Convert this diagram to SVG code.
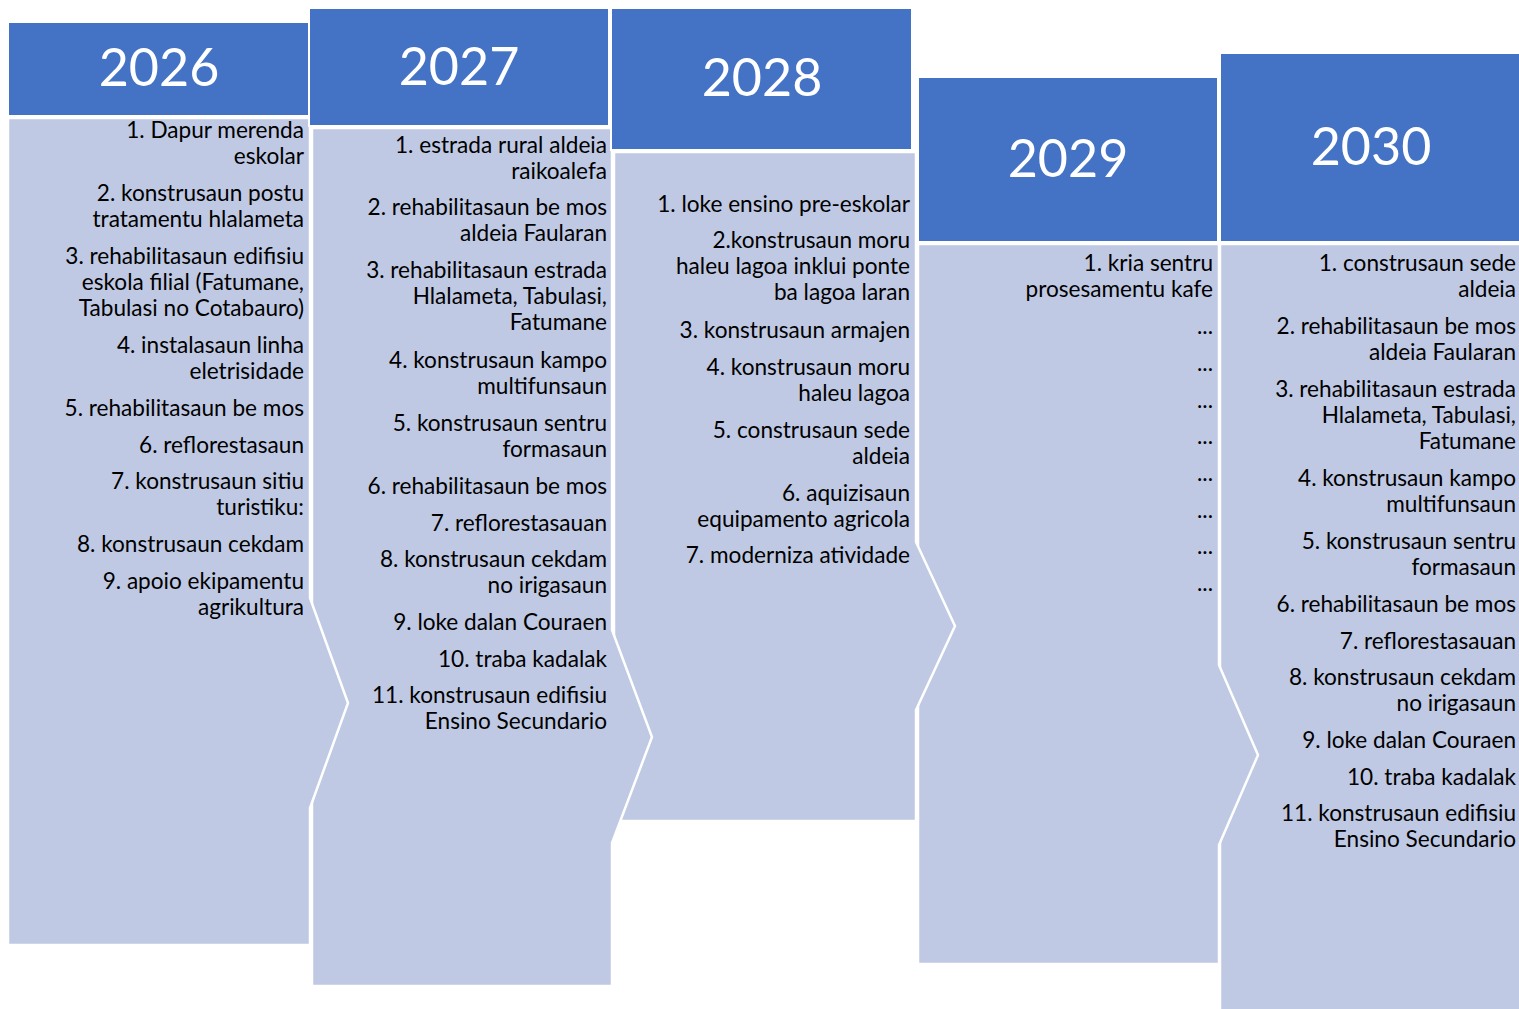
<svg xmlns="http://www.w3.org/2000/svg" width="1519" height="1009" viewBox="0 0 1519 1009">
<style>
.hdr{fill:#4472C4;stroke:#FFFFFF;stroke-width:2}
.body{fill:#BFC9E3;stroke:#FFFFFF;stroke-width:2.5;stroke-linejoin:miter}
.yr{font-family:Lato,"Liberation Sans",sans-serif;font-size:52px;fill:#FFFFFF;text-anchor:middle}
.it{font-family:Lato,"Liberation Sans",sans-serif;font-size:22.6px;fill:#000000;text-anchor:end}
</style>
<rect width="1519" height="1009" fill="#FFFFFF"/>
<g id="bodies">
<polygon id="body-2030" class="body" points="1220,244 1522,244 1522,1012 1220,1012"/>
<polygon id="body-2029" class="body" points="918,244 1219,244 1219,665 1258,755 1219,845 1219,964 918,964"/>
<polygon id="body-2028" class="body" points="614,152 916,152 916,542 955,626 916,710 916,821 614,821"/>
<polygon id="body-2027" class="body" points="312,128 612,128 612,630 652,737 612,843 612,986 312,986"/>
<polygon id="body-2026" class="body" points="8,118 310,118 310,598 348,703 310,808 310,945 8,945"/>
</g>
<g id="node-2026">
<rect class="hdr" x="8" y="22" width="301" height="94"/>
<text class="yr" x="159" y="86">2026</text>
<text class="it"><tspan x="304" y="138">1. Dapur merenda</tspan><tspan x="304" y="164">eskolar</tspan><tspan x="304" y="201">2. konstrusaun postu</tspan><tspan x="304" y="227">tratamentu hlalameta</tspan><tspan x="304" y="264">3. rehabilitasaun edifisiu</tspan><tspan x="304" y="290">eskola filial (Fatumane,</tspan><tspan x="304" y="316">Tabulasi no Cotabauro)</tspan><tspan x="304" y="353">4. instalasaun linha</tspan><tspan x="304" y="379">eletrisidade</tspan><tspan x="304" y="416">5. rehabilitasaun be mos</tspan><tspan x="304" y="453">6. reflorestasaun</tspan><tspan x="304" y="489">7. konstrusaun sitiu</tspan><tspan x="304" y="515">turistiku:</tspan><tspan x="304" y="552">8. konstrusaun cekdam</tspan><tspan x="304" y="589">9. apoio ekipamentu</tspan><tspan x="304" y="615">agrikultura</tspan></text>
</g>
<g id="node-2027">
<rect class="hdr" x="309" y="8" width="300" height="118"/>
<text class="yr" x="459" y="85">2027</text>
<text class="it"><tspan x="607" y="153">1. estrada rural aldeia</tspan><tspan x="607" y="179">raikoalefa</tspan><tspan x="607" y="215">2. rehabilitasaun be mos</tspan><tspan x="607" y="241">aldeia Faularan</tspan><tspan x="607" y="278">3. rehabilitasaun estrada</tspan><tspan x="607" y="304">Hlalameta, Tabulasi,</tspan><tspan x="607" y="330">Fatumane</tspan><tspan x="607" y="368">4. konstrusaun kampo</tspan><tspan x="607" y="394">multifunsaun</tspan><tspan x="607" y="431">5. konstrusaun sentru</tspan><tspan x="607" y="457">formasaun</tspan><tspan x="607" y="494">6. rehabilitasaun be mos</tspan><tspan x="607" y="531">7. reflorestasauan</tspan><tspan x="607" y="567">8. konstrusaun cekdam</tspan><tspan x="607" y="593">no irigasaun</tspan><tspan x="607" y="630">9. loke dalan Couraen</tspan><tspan x="607" y="667">10. traba kadalak</tspan><tspan x="607" y="703">11. konstrusaun edifisiu</tspan><tspan x="607" y="729">Ensino Secundario</tspan></text>
</g>
<g id="node-2028">
<rect class="hdr" x="611" y="8" width="301" height="142"/>
<text class="yr" x="762" y="96">2028</text>
<text class="it"><tspan x="910" y="212">1. loke ensino pre-eskolar</tspan><tspan x="910" y="248">2.konstrusaun moru</tspan><tspan x="910" y="274">haleu lagoa inklui ponte</tspan><tspan x="910" y="300">ba lagoa laran</tspan><tspan x="910" y="338">3. konstrusaun armajen</tspan><tspan x="910" y="375">4. konstrusaun moru</tspan><tspan x="910" y="401">haleu lagoa</tspan><tspan x="910" y="438">5. construsaun sede</tspan><tspan x="910" y="464">aldeia</tspan><tspan x="910" y="501">6. aquizisaun</tspan><tspan x="910" y="527">equipamento agricola</tspan><tspan x="910" y="563">7. moderniza atividade</tspan></text>
</g>
<g id="node-2029">
<rect class="hdr" x="918" y="77" width="300" height="165"/>
<text class="yr" x="1068" y="177">2029</text>
<text class="it"><tspan x="1213" y="271">1. kria sentru</tspan><tspan x="1213" y="297">prosesamentu kafe</tspan><tspan x="1213" y="334">...</tspan><tspan x="1213" y="371">...</tspan><tspan x="1213" y="408">...</tspan><tspan x="1213" y="444">...</tspan><tspan x="1213" y="481">...</tspan><tspan x="1213" y="518">...</tspan><tspan x="1213" y="554">...</tspan><tspan x="1213" y="591">...</tspan></text>
</g>
<g id="node-2030">
<rect class="hdr" x="1220" y="53" width="302" height="189"/>
<text class="yr" x="1371" y="165">2030</text>
<text class="it"><tspan x="1516" y="271">1. construsaun sede</tspan><tspan x="1516" y="297">aldeia</tspan><tspan x="1516" y="334">2. rehabilitasaun be mos</tspan><tspan x="1516" y="360">aldeia Faularan</tspan><tspan x="1516" y="397">3. rehabilitasaun estrada</tspan><tspan x="1516" y="423">Hlalameta, Tabulasi,</tspan><tspan x="1516" y="449">Fatumane</tspan><tspan x="1516" y="486">4. konstrusaun kampo</tspan><tspan x="1516" y="512">multifunsaun</tspan><tspan x="1516" y="549">5. konstrusaun sentru</tspan><tspan x="1516" y="575">formasaun</tspan><tspan x="1516" y="612">6. rehabilitasaun be mos</tspan><tspan x="1516" y="649">7. reflorestasauan</tspan><tspan x="1516" y="685">8. konstrusaun cekdam</tspan><tspan x="1516" y="711">no irigasaun</tspan><tspan x="1516" y="748">9. loke dalan Couraen</tspan><tspan x="1516" y="785">10. traba kadalak</tspan><tspan x="1516" y="821">11. konstrusaun edifisiu</tspan><tspan x="1516" y="847">Ensino Secundario</tspan></text>
</g>
</svg>
